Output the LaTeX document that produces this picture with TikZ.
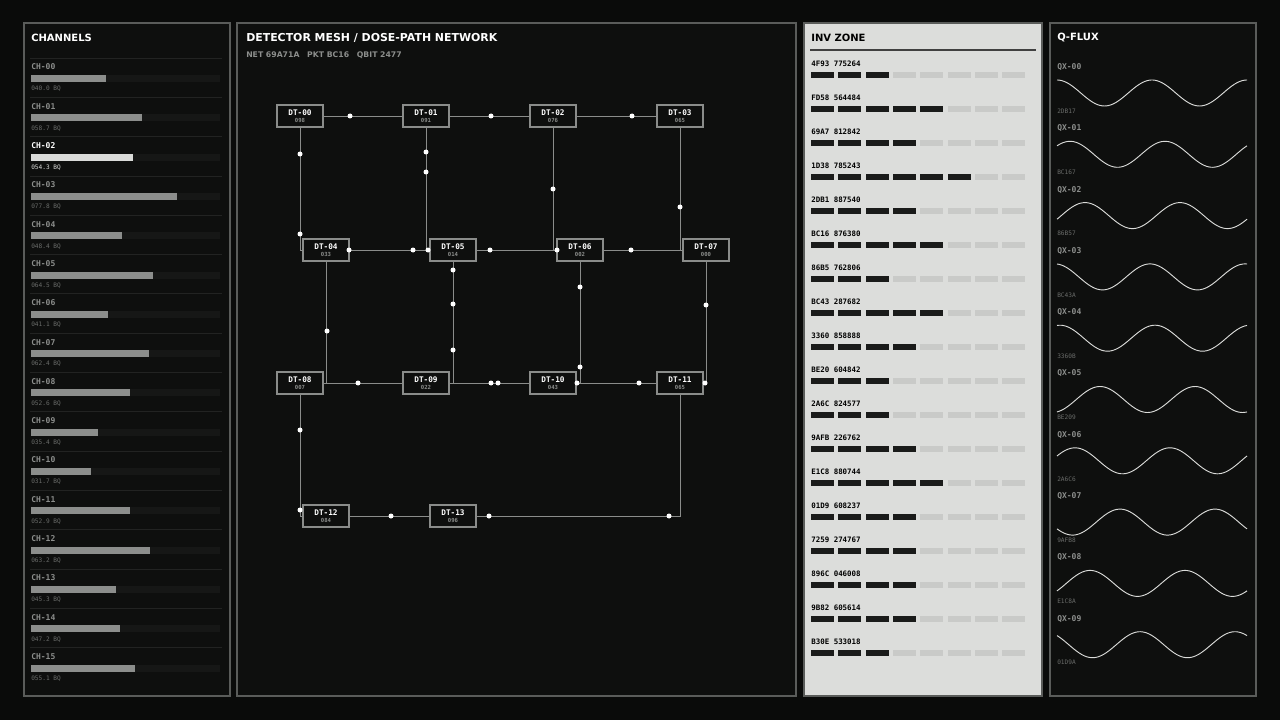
\documentclass[tikz,border=0pt]{standalone}
\usepackage{fontspec}
\setmainfont{DejaVu Sans}
\newfontfamily\mono{DejaVu Sans Mono}
\definecolor{bg}{HTML}{0A0B0A}
\definecolor{pnl}{HTML}{0E0F0E}
\definecolor{bd}{HTML}{5A5C5A}
\definecolor{lnc}{HTML}{8A8C8A}
\definecolor{lbl}{HTML}{8C8E8C}
\definecolor{lbld}{HTML}{6A6C6A}
\definecolor{sep}{HTML}{222322}
\definecolor{trk}{HTML}{161716}
\definecolor{hi}{HTML}{DADBD9}
\definecolor{invbg}{HTML}{DCDDDB}
\definecolor{seg}{HTML}{1A1B1A}
\definecolor{segl}{HTML}{C9CAC8}
\begin{document}
\begin{tikzpicture}[x=0.75pt,y=-0.75pt,
  panel/.style={draw=bd,fill=pnl,line width=0.8pt},
  ttl/.style={anchor=west,text=white,font=\bfseries\fontsize{7.5}{8}\selectfont,inner sep=0},
  sm/.style={anchor=west,font=\mono\bfseries\fontsize{6}{7}\selectfont,inner sep=0},
  tiny/.style={anchor=west,font=\mono\fontsize{4.6}{5}\selectfont,inner sep=0,text=lbld},
  dt/.style={draw=lnc,fill=pnl,line width=0.8pt,minimum width=34.5pt,minimum height=16.5pt,inner sep=0,
     align=center,text=white,font=\mono\bfseries\fontsize{5.8}{6.5}\selectfont},
  edge/.style={draw=lnc,line width=0.6pt},
  dot/.style={fill=white}]
\fill[bg] (0,0) rectangle (1280,720);
\useasboundingbox (0,0) rectangle (1280,720);
% panels
\draw[panel] (24,23) rectangle (230,696);
\draw[panel] (237,23) rectangle (796,696);
\draw[draw=bd,fill=invbg,line width=0.8pt] (804,23) rectangle (1042,696);
\draw[panel] (1050,23) rectangle (1256,696);
% CHANNELS
\node[ttl] (tch) at (31,38) {CHANNELS};
\foreach \i/\w/\v in {0/106/040.0,1/142/058.7,2/133/054.3,3/177/077.8,4/122/048.4,5/153/064.5,6/108/041.1,7/149/062.4,8/130/052.6,9/98/035.4,10/91/031.7,11/130/052.9,12/150/063.2,13/116/045.3,14/120/047.2,15/135/055.1}{
  \pgfmathsetmacro\yy{67+39.3*\i}
  \draw[sep,line width=0.5pt] (30,\yy-9) -- (222,\yy-9);
  \fill[trk] (31,\yy+8) rectangle (220,\yy+15);
  \ifnum\i=2
    \fill[hi] (31,\yy+8) rectangle (\w,\yy+15);
    \node[sm,text=white] at (31,\yy) {CH-\ifnum\i<10 0\fi\i};
    \node[tiny,text=hi] at (31,\yy+22) {\v{} BQ};
  \else
    \fill[lbl] (31,\yy+8) rectangle (\w,\yy+15);
    \node[sm,text=lbl] at (31,\yy) {CH-\ifnum\i<10 0\fi\i};
    \node[tiny] at (31,\yy+22) {\v{} BQ};
  \fi
}
% MESH
\node[ttl,font=\bfseries\fontsize{8.2}{9}\selectfont] (tm) at (246,38) {DETECTOR MESH / DOSE-PATH NETWORK};
\node[sm,text=lbl,font=\bfseries\fontsize{5.8}{6}\selectfont] (tm2) at (246,55) {NET 69A71A\quad PKT BC16\quad QBIT 2477};
\foreach \n/\x/\y/\s in {00/300/116/098,01/426/116/091,02/553/116/076,03/680/116/065,
  04/326/250/033,05/453/250/014,06/580/250/002,07/706/250/000,
  08/300/383/007,09/426/383/022,10/553/383/043,11/680/383/065,
  12/326/516/084,13/453/516/096}{
  \node[dt] (n\n) at (\x,\y) {DT-\n\\[-1.5pt]{\mono\fontsize{4.2}{4.5}\selectfont\color{lbl}\s}};
}
\draw[edge] (n00) -- (n01); \draw[edge] (n01) -- (n02); \draw[edge] (n02) -- (n03);
\draw[edge] (n04) -- (n05); \draw[edge] (n05) -- (n06); \draw[edge] (n06) -- (n07);
\draw[edge] (n08) -- (n09); \draw[edge] (n09) -- (n10); \draw[edge] (n10) -- (n11);
\draw[edge] (n12) -- (n13);
\draw[edge] (n00.south) |- (n04.west);
\draw[edge] (n01.south) |- (n05.west);
\draw[edge] (n02.south) |- (n06.west);
\draw[edge] (n03.south) |- (n07.west);
\draw[edge] (n04.south) |- (n08.east);
\draw[edge] (n05.south) |- (n09.east);
\draw[edge] (n06.south) |- (n10.east);
\draw[edge] (n07.south) |- (n11.east);
\draw[edge] (n08.south) |- (n12.west);
\draw[edge] (n11.south) |- (n13.east);
\foreach \p in {(350,116),(491,116),(632,116),(300,154),(300,234),(426,152),(426,172),(428,250),
  (553,189),(557,250),(680,207),(349,250),(413,250),(490,250),(631,250),
  (327,331),(358,383),(453,270),(453,304),(453,350),(491,383),(498,383),(580,287),(580,367),(577,383),
  (639,383),(706,305),(705,383),(300,430),(300,510),(391,516),(489,516),(669,516)}
  \fill[dot] \p circle (2.5);
% INV ZONE
\node[ttl,text=black] (ti) at (811,38) {INV ZONE};
\draw[black!75,line width=1pt] (810,50) -- (1036,50);
\foreach \i/\lab/\k in {0/4F93 775264/3,1/FD58 564484/5,2/69A7 812842/4,3/1D38 785243/6,4/2DB1 887540/4,5/BC16 876380/5,6/86B5 762806/3,7/BC43 287682/5,8/3360 858888/4,9/BE20 604842/3,10/2A6C 824577/3,11/9AFB 226762/4,12/E1C8 880744/5,13/01D9 608237/4,14/7259 274767/4,15/896C 046008/4,16/9B82 605614/4,17/B30E 533018/3}{
  \pgfmathsetmacro\yy{64+34*\i}
  \node[sm,text=black,font=\mono\bfseries\fontsize{5.6}{6}\selectfont] at (811,\yy) {\lab};
  \foreach \j in {0,...,7}{
    \pgfmathsetmacro\xx{811+27.3*\j}
    \ifnum\j<\k \fill[seg] (\xx,\yy+8) rectangle (\xx+23,\yy+14);
    \else \fill[segl] (\xx,\yy+8) rectangle (\xx+23,\yy+14); \fi
  }
}
% Q-FLUX
\node[ttl] (tq) at (1057,38) {Q-FLUX};
\foreach \i/\s/\ph in {0/2DB17/1057,1/BC167/1070,2/86B57/1085,3/BC43A/1150,4/3360B/1060,5/BE209/1100,6/2A6C6/1075,7/9AFB8/1120,8/E1C8A/1090,9/01D9A/1140}{
  \pgfmathsetmacro\yy{67+61.3*\i}
  \node[sm,text=lbl] at (1057,\yy) {QX-0\i};
  \draw[hi,line width=0.7pt] plot[domain=1057:1247,samples=90,smooth] (\x,{\yy+26-13*cos((\x-\ph)*3.79)});
  \node[tiny] at (1057,\yy+44) {\s};
}
\end{tikzpicture}
\end{document}
